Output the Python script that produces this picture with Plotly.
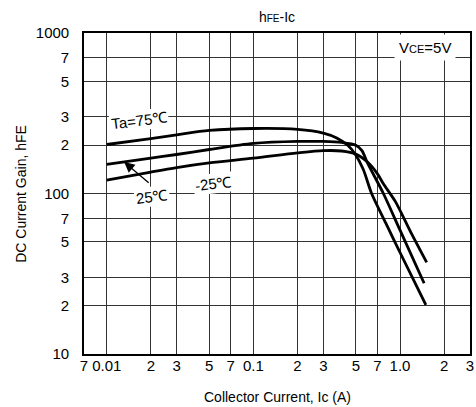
import numpy as np
import plotly.graph_objects as go

# ---- data ----
ic_75 = [0.01, 0.02, 0.03, 0.05, 0.1, 0.2, 0.3, 0.37, 0.44, 0.49, 0.56, 0.64, 0.8, 1.0, 1.5]
hfe_75 = [202, 220, 232, 247, 254, 251, 238, 222, 200, 178, 142, 100, 65.4, 42.9, 20.2]

ic_25 = [0.01, 0.02, 0.03, 0.05, 0.1, 0.2, 0.3, 0.4, 0.5, 0.55, 0.6, 0.77, 1.0, 1.46]
hfe_25 = [152, 166, 175, 188, 205, 211, 211, 208, 200, 185, 155, 100, 59.1, 27.6]

ic_m25 = [0.01, 0.02, 0.03, 0.05, 0.1, 0.2, 0.3, 0.4, 0.5, 0.6, 0.7, 0.77, 0.93, 1.2, 1.52]
hfe_m25 = [121, 136, 145, 155, 166, 179, 185, 184, 176, 157, 133, 115, 89, 56, 37.2]

x_tickvals = [0.007, 0.01, 0.02, 0.03, 0.05, 0.07, 0.1, 0.2, 0.3, 0.5, 0.7, 1, 2, 3]
x_ticktext = ["7", "0.01", "2", "3", "5", "7", "0.1", "2", "3", "5", "7", "1.0", "2", "3"]
y_tickvals = [10, 20, 30, 50, 70, 100, 200, 300, 500, 700, 1000]
y_ticktext = ["10", "2", "3", "5", "7", "100", "2", "3", "5", "7", "1000"]

FONT = "Liberation Sans, Arial, sans-serif"

fig = go.Figure()
for xs, ys in [(ic_75, hfe_75), (ic_25, hfe_25), (ic_m25, hfe_m25)]:
    fig.add_trace(go.Scatter(x=xs, y=ys, mode="lines",
                             line=dict(color="black", width=2.8, shape="spline", smoothing=0.8),
                             showlegend=False, hoverinfo="skip"))

lg = np.log10
label_font = dict(family=FONT, size=15, color="black")
fig.add_annotation(x=lg(0.0166), y=lg(287), text="Ta=75℃", showarrow=False,
                   textangle=-7, bgcolor="white", font=label_font, borderpad=1)
fig.add_annotation(x=lg(0.0205), y=lg(96), text="25℃", showarrow=False,
                   textangle=-7, bgcolor="white", font=label_font, borderpad=1)
fig.add_annotation(x=lg(0.0535), y=lg(115), text="-25℃", showarrow=False,
                   textangle=-7, bgcolor="white", font=label_font, borderpad=1)
fig.add_annotation(x=lg(0.01315), y=lg(157), ax=26, ay=22, text="", showarrow=True,
                   arrowhead=2, arrowsize=1.6, arrowwidth=1.3, arrowcolor="black",
                   axref="pixel", ayref="pixel")
fig.add_annotation(x=lg(1.47), y=lg(815),
                   text="V<span style='font-size:11px'>CE</span>=5V", showarrow=False,
                   bgcolor="white", font=label_font, borderpad=4)

# axis titles placed as paper annotations
fig.add_annotation(xref="paper", yref="paper", x=0.5, y=-0.103, yanchor="top",
                   text="Collector Current, Ic (A)", showarrow=False,
                   font=dict(family=FONT, size=14, color="black"))
fig.add_annotation(xref="paper", yref="paper", x=-0.165, y=0.5, xanchor="center",
                   text="DC Current Gain, hFE", showarrow=False, textangle=-90,
                   font=dict(family=FONT, size=14, color="black"))

fig.update_layout(
    width=476, height=407,
    margin=dict(l=84, r=6, t=33, b=53, autoexpand=False),
    paper_bgcolor="white", plot_bgcolor="white",
    font=dict(family=FONT, size=15, color="black"),
    title=dict(text="h<span style='font-size:10px'>FE</span>-Ic", x=0.582, xanchor="center",
               y=0.957, yanchor="middle", font=dict(family=FONT, size=14, color="black")),
)
fig.update_xaxes(type="log", range=[lg(0.007), lg(3)],
                 tickvals=x_tickvals, ticktext=x_ticktext, automargin=False,
                 showgrid=True, gridcolor="#333", gridwidth=1,
                 showline=True, linecolor="black", linewidth=1.6, mirror=True,
                 ticks="", ticklabelstandoff=-3, zeroline=False,
                 tickfont=dict(family=FONT, size=15, color="black"))
fig.update_yaxes(type="log", range=[1, 3],
                 tickvals=y_tickvals, ticktext=y_ticktext, automargin=False,
                 showgrid=True, gridcolor="#333", gridwidth=1,
                 showline=True, linecolor="black", linewidth=1.6, mirror=True,
                 ticks="", ticklabelstandoff=10, zeroline=False,
                 tickfont=dict(family=FONT, size=15, color="black"))

fig.write_html("out.html", config={"displayModeBar": False},
               post_script="document.body.style.margin='0';document.body.style.overflow='hidden';")
